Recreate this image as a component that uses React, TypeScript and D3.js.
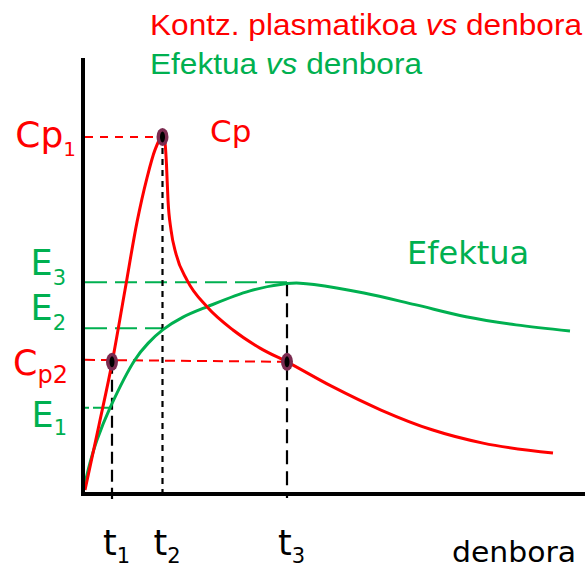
import React from "react";
import * as d3 from "d3";

// ---- data (time units, value units) ----
const cpTime = [0.04, 0.32, 0.58, 0.84, 1.08, 1.28, 1.44, 1.59, 1.64, 1.67, 1.7, 1.76, 1.86, 2.08, 2.48, 3.0, 3.54, 4.08, 4.96, 5.96, 6.98, 8.0, 9.4];
const cpValue = [0.7, 15.8, 30.2, 47.2, 63.0, 73.3, 79.8, 82.8, 81.4, 76.3, 68.1, 61.2, 55.6, 49.5, 43.3, 37.9, 33.7, 30.5, 24.9, 19.3, 14.7, 11.6, 9.3];

const efTime = [0.0, 0.14, 0.28, 0.54, 1.04, 1.3, 1.6, 2.0, 2.48, 3.34, 4.08, 4.34, 4.62, 5.62, 6.64, 7.66, 8.66, 9.74];
const efValue = [0.2, 7.0, 12.3, 19.8, 31.0, 34.8, 38.0, 40.9, 43.3, 47.0, 48.7, 48.8, 48.5, 46.5, 43.8, 41.0, 39.1, 37.7];

const timeMarks = [0.58, 1.59, 4.08]; // t1, t2, t3
const timeSubs = ["1", "2", "3"];

const Cp1 = 82.8;
const Cp2 = 30.5;
const E1 = 19.8;
const E2 = 38.3;
const E3 = 49.0;

const levelNames = ["Cp", "E", "E", "C", "E"];
const levelSubs = ["1", "3", "2", "p2", "1"];
const levelValues = [Cp1, E3, E2, Cp2, E1];

const RED = "#ff0000";
const GREEN = "#00b050";

export default function App() {
  const W = 587;
  const H = 570;
  const x = d3.scaleLinear().domain([0, 10]).range([83, 583]);
  const y = d3.scaleLinear().domain([0, 100]).range([493, 63]);

  const redLine = d3
    .line<[number, number]>()
    .x((d) => x(d[0]))
    .y((d) => y(d[1]))
    .curve(d3.curveMonotoneX);
  const greenLine = d3
    .line<[number, number]>()
    .x((d) => x(d[0]))
    .y((d) => y(d[1]))
    .curve(d3.curveCatmullRom.alpha(0.5));

  const cpPts: [number, number][] = cpTime.map((t, i) => [t, cpValue[i]]);
  const efPts: [number, number][] = efTime.map((t, i) => [t, efValue[i]]);

  const [t1, t2, t3] = timeMarks;
  const x0 = x(0) + 2;
  const yAxis = y(0) + 1;

  const font = "'DejaVu Sans', Verdana, sans-serif";
  const tfont = "'Liberation Sans', Arial, sans-serif";

  // label layout
  const labelAnchorX = [76, 66, 66, 68, 67];
  const labelDy = [10, -7, -8, 13, 19];
  const labelColor = [RED, GREEN, GREEN, RED, GREEN];
  const labelSize = [36, 35, 35, 35, 35];
  const subSize = [20, 21, 21, 24, 21];
  const subDy = [9, 10, 10, 8, 8];

  const markers: [number, number][] = [
    [t1, Cp2],
    [t2, Cp1],
    [t3, Cp2],
  ];

  return (
    <svg
      width={W}
      height={H}
      style={{ position: "absolute", left: 0, top: 0, background: "#fff" }}
    >
      {/* guide lines */}
      <line x1={x0} x2={x(t2)} y1={y(Cp1)} y2={y(Cp1)} stroke={RED} strokeWidth={2} strokeDasharray="8,7" />
      <line x1={x0} x2={x(t3)} y1={y(Cp2) - 2} y2={y(Cp2)} stroke={RED} strokeWidth={2} strokeDasharray="10,6" />
      <line x1={x0} x2={x(t3)} y1={y(E3)} y2={y(E3)} stroke={GREEN} strokeWidth={2} strokeDasharray="22,8" />
      <line x1={x0} x2={x(t2)} y1={y(E2)} y2={y(E2)} stroke={GREEN} strokeWidth={2} strokeDasharray="22,8" />
      <line x1={x0} x2={x(t1)} y1={y(E1)} y2={y(E1)} stroke={GREEN} strokeWidth={2} strokeDasharray="4,4,18,4" />
      <line x1={x(t1)} x2={x(t1)} y1={y(Cp2)} y2={yAxis + 5} stroke="#000" strokeWidth={2.2} strokeDasharray="12,6" />
      <line x1={x(t2)} x2={x(t2)} y1={y(Cp1)} y2={yAxis} stroke="#000" strokeWidth={2.2} strokeDasharray="6,5" />
      <line x1={x(t3)} x2={x(t3)} y1={y(E3)} y2={yAxis + 4} stroke="#000" strokeWidth={2.2} strokeDasharray="14,7" />

      {/* curves */}
      <path d={greenLine(efPts) || ""} fill="none" stroke={GREEN} strokeWidth={3} />
      <path d={redLine(cpPts) || ""} fill="none" stroke={RED} strokeWidth={3} />

      {/* axes */}
      <line x1={x(0)} x2={x(0)} y1={58} y2={yAxis + 2} stroke="#000" strokeWidth={4} />
      <line x1={x(0) - 2} x2={585} y1={yAxis} y2={yAxis} stroke="#000" strokeWidth={4} />

      {/* markers */}
      {markers.map((m, i) => (
        <g key={i}>
          <ellipse cx={x(m[0])} cy={y(m[1])} rx={6} ry={9} fill="#7b2b50" />
          <ellipse cx={x(m[0])} cy={y(m[1])} rx={2.5} ry={5.5} fill="#000" />
        </g>
      ))}

      {/* level labels */}
      {levelNames.map((n, i) => (
        <text
          key={i}
          x={labelAnchorX[i]}
          y={y(levelValues[i]) + labelDy[i]}
          textAnchor="end"
          fontFamily={font}
          fontSize={labelSize[i]}
          fill={labelColor[i]}
        >
          {n}
          <tspan dy={subDy[i]} fontSize={subSize[i]}>
            {levelSubs[i]}
          </tspan>
        </text>
      ))}

      {/* time labels */}
      {timeMarks.map((t, i) => (
        <text key={i} x={x(t) - 9} y={555} fontFamily={font} fontSize={35} fill="#000">
          t
          <tspan dy={8} fontSize={21}>
            {timeSubs[i]}
          </tspan>
        </text>
      ))}

      <text x={452} y={562} fontFamily={font} fontSize={28} fill="#000" textLength={124} lengthAdjust="spacingAndGlyphs">
        denbora
      </text>
      <text x={210} y={142} fontFamily={font} fontSize={31} fill={RED}>
        Cp
      </text>
      <text x={407} y={264} fontFamily={font} fontSize={32} fill={GREEN}>
        Efektua
      </text>

      {/* title */}
      <text x={150} y={35} fontFamily={tfont} fontSize={29} fill={RED} textLength={432} lengthAdjust="spacingAndGlyphs">
        Kontz. plasmatikoa <tspan fontStyle="italic">vs</tspan> denbora
      </text>
      <text x={150} y={74} fontFamily={tfont} fontSize={29} fill={GREEN} textLength={272} lengthAdjust="spacingAndGlyphs">
        Efektua <tspan fontStyle="italic">vs</tspan> denbora
      </text>
    </svg>
  );
}
